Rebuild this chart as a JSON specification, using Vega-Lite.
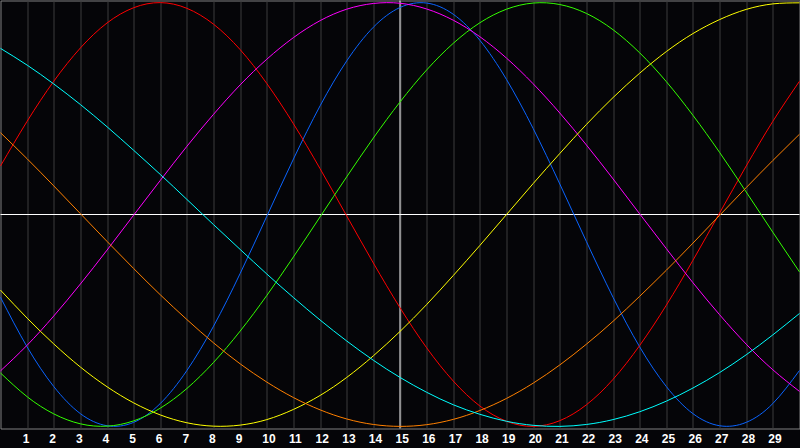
{
  "$schema": "https://vega.github.io/schema/vega-lite/v6.json",
  "width": 799,
  "height": 428,
  "autosize": {"type": "none"},
  "padding": {"left": 0.5, "top": 0.5, "right": 0.5, "bottom": 19.5},
  "background": "#050508",
  "config": {
    "view": {"stroke": "#808080", "strokeWidth": 1, "fill": "#050508"},
    "axis": {"labelOverlap": false, "labelFlush": false, "labelBound": false}
  },
  "datasets": {
    "curves": [
      {"d":0,"s":"Physical","v":-0.391},{"d":1,"s":"Physical","v":-0.625},{"d":2,"s":"Physical","v":-0.812},{"d":3,"s":"Physical","v":-0.940},{"d":4,"s":"Physical","v":-0.997},{"d":5,"s":"Physical","v":-0.981},{"d":6,"s":"Physical","v":-0.892},{"d":7,"s":"Physical","v":-0.736},{"d":8,"s":"Physical","v":-0.527},{"d":9,"s":"Physical","v":-0.278},{"d":10,"s":"Physical","v":-0.008},{"d":11,"s":"Physical","v":0.262},{"d":12,"s":"Physical","v":0.513},{"d":13,"s":"Physical","v":0.725},{"d":14,"s":"Physical","v":0.884},{"d":15,"s":"Physical","v":0.977},{"d":16,"s":"Physical","v":0.998},{"d":17,"s":"Physical","v":0.945},{"d":18,"s":"Physical","v":0.822},{"d":19,"s":"Physical","v":0.637},{"d":20,"s":"Physical","v":0.406},{"d":21,"s":"Physical","v":0.144},{"d":22,"s":"Physical","v":-0.128},{"d":23,"s":"Physical","v":-0.391},{"d":24,"s":"Physical","v":-0.625},{"d":25,"s":"Physical","v":-0.812},{"d":26,"s":"Physical","v":-0.940},{"d":27,"s":"Physical","v":-0.997},{"d":28,"s":"Physical","v":-0.981},{"d":29,"s":"Physical","v":-0.892},{"d":30,"s":"Physical","v":-0.736},
      {"d":0,"s":"Emotional","v":0.229},{"d":1,"s":"Emotional","v":0.440},{"d":2,"s":"Emotional","v":0.629},{"d":3,"s":"Emotional","v":0.786},{"d":4,"s":"Emotional","v":0.904},{"d":5,"s":"Emotional","v":0.976},{"d":6,"s":"Emotional","v":1.000},{"d":7,"s":"Emotional","v":0.973},{"d":8,"s":"Emotional","v":0.898},{"d":9,"s":"Emotional","v":0.778},{"d":10,"s":"Emotional","v":0.618},{"d":11,"s":"Emotional","v":0.428},{"d":12,"s":"Emotional","v":0.216},{"d":13,"s":"Emotional","v":-0.007},{"d":14,"s":"Emotional","v":-0.229},{"d":15,"s":"Emotional","v":-0.440},{"d":16,"s":"Emotional","v":-0.629},{"d":17,"s":"Emotional","v":-0.786},{"d":18,"s":"Emotional","v":-0.904},{"d":19,"s":"Emotional","v":-0.976},{"d":20,"s":"Emotional","v":-1.000},{"d":21,"s":"Emotional","v":-0.973},{"d":22,"s":"Emotional","v":-0.898},{"d":23,"s":"Emotional","v":-0.778},{"d":24,"s":"Emotional","v":-0.618},{"d":25,"s":"Emotional","v":-0.428},{"d":26,"s":"Emotional","v":-0.216},{"d":27,"s":"Emotional","v":0.007},{"d":28,"s":"Emotional","v":0.229},{"d":29,"s":"Emotional","v":0.440},{"d":30,"s":"Emotional","v":0.629},
      {"d":0,"s":"Intellectual","v":-0.748},{"d":1,"s":"Intellectual","v":-0.860},{"d":2,"s":"Intellectual","v":-0.941},{"d":3,"s":"Intellectual","v":-0.988},{"d":4,"s":"Intellectual","v":-0.999},{"d":5,"s":"Intellectual","v":-0.974},{"d":6,"s":"Intellectual","v":-0.914},{"d":7,"s":"Intellectual","v":-0.821},{"d":8,"s":"Intellectual","v":-0.698},{"d":9,"s":"Intellectual","v":-0.550},{"d":10,"s":"Intellectual","v":-0.382},{"d":11,"s":"Intellectual","v":-0.200},{"d":12,"s":"Intellectual","v":-0.011},{"d":13,"s":"Intellectual","v":0.178},{"d":14,"s":"Intellectual","v":0.361},{"d":15,"s":"Intellectual","v":0.531},{"d":16,"s":"Intellectual","v":0.682},{"d":17,"s":"Intellectual","v":0.808},{"d":18,"s":"Intellectual","v":0.905},{"d":19,"s":"Intellectual","v":0.969},{"d":20,"s":"Intellectual","v":0.998},{"d":21,"s":"Intellectual","v":0.991},{"d":22,"s":"Intellectual","v":0.949},{"d":23,"s":"Intellectual","v":0.872},{"d":24,"s":"Intellectual","v":0.763},{"d":25,"s":"Intellectual","v":0.627},{"d":26,"s":"Intellectual","v":0.468},{"d":27,"s":"Intellectual","v":0.293},{"d":28,"s":"Intellectual","v":0.106},{"d":29,"s":"Intellectual","v":-0.084},{"d":30,"s":"Intellectual","v":-0.271},
      {"d":0,"s":"Intuitive","v":-0.738},{"d":1,"s":"Intuitive","v":-0.617},{"d":2,"s":"Intuitive","v":-0.479},{"d":3,"s":"Intuitive","v":-0.328},{"d":4,"s":"Intuitive","v":-0.168},{"d":5,"s":"Intuitive","v":-0.003},{"d":6,"s":"Intuitive","v":0.161},{"d":7,"s":"Intuitive","v":0.322},{"d":8,"s":"Intuitive","v":0.473},{"d":9,"s":"Intuitive","v":0.612},{"d":10,"s":"Intuitive","v":0.733},{"d":11,"s":"Intuitive","v":0.835},{"d":12,"s":"Intuitive","v":0.915},{"d":13,"s":"Intuitive","v":0.969},{"d":14,"s":"Intuitive","v":0.996},{"d":15,"s":"Intuitive","v":0.997},{"d":16,"s":"Intuitive","v":0.970},{"d":17,"s":"Intuitive","v":0.917},{"d":18,"s":"Intuitive","v":0.839},{"d":19,"s":"Intuitive","v":0.738},{"d":20,"s":"Intuitive","v":0.617},{"d":21,"s":"Intuitive","v":0.479},{"d":22,"s":"Intuitive","v":0.328},{"d":23,"s":"Intuitive","v":0.168},{"d":24,"s":"Intuitive","v":0.003},{"d":25,"s":"Intuitive","v":-0.161},{"d":26,"s":"Intuitive","v":-0.322},{"d":27,"s":"Intuitive","v":-0.473},{"d":28,"s":"Intuitive","v":-0.612},{"d":29,"s":"Intuitive","v":-0.733},{"d":30,"s":"Intuitive","v":-0.835},
      {"d":0,"s":"Aesthetic","v":-0.357},{"d":1,"s":"Aesthetic","v":-0.489},{"d":2,"s":"Aesthetic","v":-0.611},{"d":3,"s":"Aesthetic","v":-0.720},{"d":4,"s":"Aesthetic","v":-0.813},{"d":5,"s":"Aesthetic","v":-0.889},{"d":6,"s":"Aesthetic","v":-0.946},{"d":7,"s":"Aesthetic","v":-0.983},{"d":8,"s":"Aesthetic","v":-0.999},{"d":9,"s":"Aesthetic","v":-0.994},{"d":10,"s":"Aesthetic","v":-0.968},{"d":11,"s":"Aesthetic","v":-0.920},{"d":12,"s":"Aesthetic","v":-0.854},{"d":13,"s":"Aesthetic","v":-0.769},{"d":14,"s":"Aesthetic","v":-0.667},{"d":15,"s":"Aesthetic","v":-0.552},{"d":16,"s":"Aesthetic","v":-0.425},{"d":17,"s":"Aesthetic","v":-0.288},{"d":18,"s":"Aesthetic","v":-0.146},{"d":19,"s":"Aesthetic","v":0.000},{"d":20,"s":"Aesthetic","v":0.146},{"d":21,"s":"Aesthetic","v":0.288},{"d":22,"s":"Aesthetic","v":0.425},{"d":23,"s":"Aesthetic","v":0.552},{"d":24,"s":"Aesthetic","v":0.667},{"d":25,"s":"Aesthetic","v":0.769},{"d":26,"s":"Aesthetic","v":0.854},{"d":27,"s":"Aesthetic","v":0.920},{"d":28,"s":"Aesthetic","v":0.968},{"d":29,"s":"Aesthetic","v":0.994},{"d":30,"s":"Aesthetic","v":0.999},
      {"d":0,"s":"Awareness","v":0.386},{"d":1,"s":"Awareness","v":0.263},{"d":2,"s":"Awareness","v":0.135},{"d":3,"s":"Awareness","v":0.004},{"d":4,"s":"Awareness","v":-0.127},{"d":5,"s":"Awareness","v":-0.255},{"d":6,"s":"Awareness","v":-0.379},{"d":7,"s":"Awareness","v":-0.496},{"d":8,"s":"Awareness","v":-0.606},{"d":9,"s":"Awareness","v":-0.705},{"d":10,"s":"Awareness","v":-0.791},{"d":11,"s":"Awareness","v":-0.864},{"d":12,"s":"Awareness","v":-0.922},{"d":13,"s":"Awareness","v":-0.965},{"d":14,"s":"Awareness","v":-0.991},{"d":15,"s":"Awareness","v":-1.000},{"d":16,"s":"Awareness","v":-0.992},{"d":17,"s":"Awareness","v":-0.967},{"d":18,"s":"Awareness","v":-0.925},{"d":19,"s":"Awareness","v":-0.868},{"d":20,"s":"Awareness","v":-0.796},{"d":21,"s":"Awareness","v":-0.710},{"d":22,"s":"Awareness","v":-0.612},{"d":23,"s":"Awareness","v":-0.504},{"d":24,"s":"Awareness","v":-0.386},{"d":25,"s":"Awareness","v":-0.263},{"d":26,"s":"Awareness","v":-0.135},{"d":27,"s":"Awareness","v":-0.004},{"d":28,"s":"Awareness","v":0.127},{"d":29,"s":"Awareness","v":0.255},{"d":30,"s":"Awareness","v":0.379},
      {"d":0,"s":"Spiritual","v":0.784},{"d":1,"s":"Spiritual","v":0.705},{"d":2,"s":"Spiritual","v":0.616},{"d":3,"s":"Spiritual","v":0.519},{"d":4,"s":"Spiritual","v":0.414},{"d":5,"s":"Spiritual","v":0.303},{"d":6,"s":"Spiritual","v":0.189},{"d":7,"s":"Spiritual","v":0.071},{"d":8,"s":"Spiritual","v":-0.048},{"d":9,"s":"Spiritual","v":-0.165},{"d":10,"s":"Spiritual","v":-0.281},{"d":11,"s":"Spiritual","v":-0.392},{"d":12,"s":"Spiritual","v":-0.498},{"d":13,"s":"Spiritual","v":-0.597},{"d":14,"s":"Spiritual","v":-0.688},{"d":15,"s":"Spiritual","v":-0.769},{"d":16,"s":"Spiritual","v":-0.839},{"d":17,"s":"Spiritual","v":-0.898},{"d":18,"s":"Spiritual","v":-0.943},{"d":19,"s":"Spiritual","v":-0.976},{"d":20,"s":"Spiritual","v":-0.995},{"d":21,"s":"Spiritual","v":-1.000},{"d":22,"s":"Spiritual","v":-0.991},{"d":23,"s":"Spiritual","v":-0.968},{"d":24,"s":"Spiritual","v":-0.931},{"d":25,"s":"Spiritual","v":-0.881},{"d":26,"s":"Spiritual","v":-0.819},{"d":27,"s":"Spiritual","v":-0.746},{"d":28,"s":"Spiritual","v":-0.662},{"d":29,"s":"Spiritual","v":-0.568},{"d":30,"s":"Spiritual","v":-0.467}
    ],
    "vline": [{"d": 15}],
    "hline": [{"v": 0}]
  },
  "encoding": {
    "x": {
      "field": "d", "type": "quantitative",
      "scale": {"domain": [0, 30], "nice": false, "zero": false},
      "axis": {
        "values": [1,2,3,4,5,6,7,8,9,10,11,12,13,14,15,16,17,18,19,20,21,22,23,24,25,26,27,28,29],
        "title": null, "grid": true, "gridColor": "#3c3c3c", "gridWidth": 1,
        "ticks": false, "domain": false,
        "labelColor": "#ffffff", "labelFont": "Liberation Sans", "labelFontWeight": "bold",
        "labelFontSize": 12, "labelAlign": "left", "labelOffset": -5, "labelPadding": 5,
        "labelBaseline": "top", "labelFlush": false, "labelBound": false, "labelOverlap": false
      }
    }
  },
  "layer": [
    {
      "data": {"name": "vline"},
      "mark": {"type": "rule", "color": "#ffffff", "strokeWidth": 1},
      "encoding": {}
    },
    {
      "data": {"name": "hline"},
      "mark": {"type": "rule", "color": "#ffffff", "strokeWidth": 1},
      "encoding": {
        "x": null,
        "y": {"field": "v", "type": "quantitative", "scale": {"domain": [-1.01, 1.01], "nice": false, "zero": false}, "axis": null}
      }
    },
    {
      "data": {"name": "curves"},
      "mark": {"type": "line", "interpolate": "natural", "strokeWidth": 1},
      "encoding": {
        "y": {"field": "v", "type": "quantitative"},
        "color": {
          "field": "s", "type": "nominal", "legend": null,
          "scale": {
            "domain": ["Physical", "Emotional", "Intellectual", "Intuitive", "Aesthetic", "Awareness", "Spiritual"],
            "range": ["#0a64ff", "#ff0000", "#33ff00", "#ff00ff", "#ffff00", "#ff8000", "#00ffff"]
          }
        }
      }
    }
  ]
}
